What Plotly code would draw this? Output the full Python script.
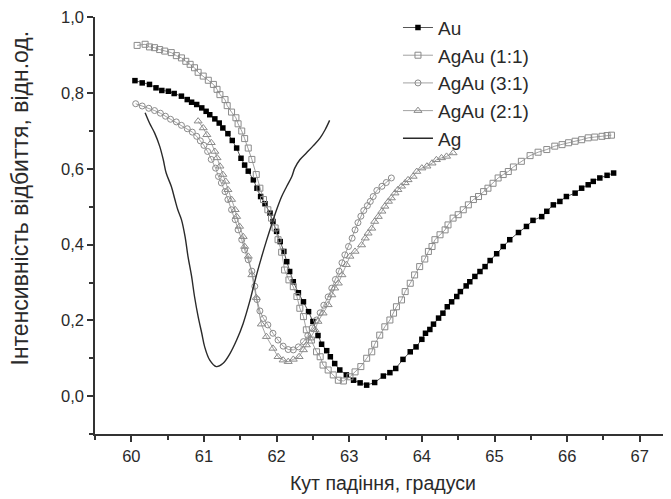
import plotly.graph_objects as go

au_x = [60.05, 60.15, 60.25, 60.34, 60.42, 60.51, 60.59, 60.69, 60.77, 60.83, 60.90, 60.97, 61.03, 61.08,
        61.15, 61.21, 61.26, 61.33, 61.39, 61.45, 61.51, 61.56, 61.61, 61.68, 61.73, 61.78, 61.84, 61.91,
        61.95, 62.00, 62.05, 62.10, 62.14, 62.18, 62.23, 62.30, 62.37, 62.44, 62.50, 62.57, 62.62, 62.69,
        62.74, 62.80, 62.87, 62.96, 63.06, 63.15, 63.24, 63.35, 63.47, 63.56, 63.64, 63.74, 63.84, 63.92,
        64.00, 64.05, 64.11, 64.16, 64.23, 64.29, 64.35, 64.41, 64.48, 64.53, 64.61, 64.66, 64.73, 64.80,
        64.87, 64.94, 65.03, 65.12, 65.21, 65.33, 65.44, 65.53, 65.65, 65.72, 65.81, 65.90, 65.99, 66.11,
        66.20, 66.29, 66.36, 66.45, 66.55, 66.64]
au_y = [0.833, 0.827, 0.823, 0.814, 0.807, 0.805, 0.799, 0.792, 0.783, 0.776, 0.770, 0.761, 0.752, 0.743,
        0.732, 0.721, 0.708, 0.693, 0.675, 0.655, 0.628, 0.610, 0.594, 0.571, 0.549, 0.527, 0.508, 0.483,
        0.461, 0.435, 0.408, 0.382, 0.355, 0.329, 0.302, 0.273, 0.249, 0.223, 0.197, 0.160, 0.137, 0.120,
        0.104, 0.086, 0.069, 0.056, 0.042, 0.035, 0.029, 0.036, 0.053, 0.062, 0.073, 0.097, 0.117, 0.130,
        0.150, 0.166, 0.176, 0.190, 0.206, 0.219, 0.236, 0.249, 0.263, 0.276, 0.291, 0.302, 0.316, 0.329,
        0.342, 0.358, 0.376, 0.395, 0.413, 0.432, 0.448, 0.464, 0.474, 0.488, 0.505, 0.514, 0.527, 0.536,
        0.549, 0.558, 0.567, 0.576, 0.583, 0.589]

agau11_x = [60.08, 60.19, 60.25, 60.32, 60.39, 60.46, 60.55, 60.62, 60.69, 60.75, 60.81, 60.87, 60.92, 60.99,
            61.06, 61.13, 61.18, 61.22, 61.29, 61.32, 61.38, 61.44, 61.47, 61.52, 61.56, 61.61, 61.66, 61.72,
            61.77, 61.82, 61.88, 61.93, 61.98, 62.02, 62.07, 62.11, 62.17, 62.23, 62.28, 62.32, 62.37, 62.41,
            62.48, 62.55, 62.60, 62.64, 62.71, 62.78, 62.85, 62.92, 63.01, 63.08, 63.16, 63.24, 63.31, 63.35,
            63.42, 63.49, 63.56, 63.61, 63.65, 63.72, 63.77, 63.84, 63.90, 63.97, 64.04, 64.09, 64.14, 64.18,
            64.25, 64.32, 64.36, 64.43, 64.50, 64.57, 64.64, 64.71, 64.78, 64.85, 64.91, 64.98, 65.05, 65.12,
            65.19, 65.26, 65.37, 65.49, 65.60, 65.72, 65.83, 65.93, 66.02, 66.11, 66.20, 66.29, 66.38, 66.48,
            66.55, 66.61]
agau11_y = [0.926, 0.929, 0.922, 0.920, 0.915, 0.911, 0.907, 0.899, 0.893, 0.884, 0.876, 0.867, 0.855, 0.845,
            0.834, 0.823, 0.810, 0.796, 0.783, 0.767, 0.750, 0.735, 0.719, 0.700, 0.680, 0.655, 0.625, 0.585,
            0.549, 0.519, 0.492, 0.470, 0.444, 0.413, 0.380, 0.333, 0.307, 0.289, 0.263, 0.232, 0.210, 0.175,
            0.148, 0.117, 0.104, 0.082, 0.069, 0.056, 0.042, 0.040, 0.051, 0.064, 0.078, 0.100, 0.117, 0.137,
            0.161, 0.183, 0.201, 0.219, 0.236, 0.254, 0.276, 0.298, 0.320, 0.342, 0.362, 0.382, 0.395, 0.413,
            0.426, 0.439, 0.452, 0.470, 0.479, 0.492, 0.505, 0.519, 0.527, 0.540, 0.549, 0.562, 0.576, 0.585,
            0.593, 0.605, 0.620, 0.635, 0.644, 0.651, 0.660, 0.664, 0.669, 0.673, 0.677, 0.682, 0.684, 0.686,
            0.688, 0.689]

agau31_x = [60.06, 60.15, 60.24, 60.32, 60.40, 60.47, 60.54, 60.62, 60.69, 60.77, 60.84, 60.90, 60.95, 61.00,
            61.05, 61.10, 61.16, 61.20, 61.24, 61.29, 61.33, 61.38, 61.43, 61.47, 61.52, 61.56, 61.61, 61.66,
            61.70, 61.73, 61.77, 61.82, 61.88, 61.95, 62.02, 62.09, 62.16, 62.23, 62.30, 62.37, 62.43, 62.49,
            62.55, 62.60, 62.65, 62.71, 62.76, 62.81, 62.86, 62.90, 62.94, 62.99, 63.04, 63.08, 63.12, 63.16,
            63.20, 63.25, 63.29, 63.33, 63.38, 63.45, 63.51, 63.58]
agau31_y = [0.772, 0.766, 0.760, 0.754, 0.747, 0.739, 0.731, 0.724, 0.715, 0.706, 0.697, 0.686, 0.674, 0.662,
            0.646, 0.625, 0.602, 0.580, 0.563, 0.540, 0.519, 0.492, 0.466, 0.439, 0.413, 0.386, 0.360, 0.330,
            0.290, 0.255, 0.225, 0.205, 0.188, 0.166, 0.148, 0.132, 0.123, 0.122, 0.130, 0.144, 0.160, 0.180,
            0.201, 0.220, 0.240, 0.262, 0.285, 0.308, 0.330, 0.352, 0.373, 0.395, 0.417, 0.439, 0.458, 0.475,
            0.490, 0.503, 0.514, 0.527, 0.543, 0.554, 0.564, 0.576]

agau21_x = [60.92, 60.99, 61.04, 61.10, 61.15, 61.18, 61.22, 61.26, 61.30, 61.33, 61.38, 61.43, 61.45, 61.49,
            61.54, 61.56, 61.61, 61.66, 61.72, 61.79, 61.86, 61.95, 62.02, 62.09, 62.16, 62.23, 62.31, 62.37,
            62.41, 62.46, 62.53, 62.57, 62.64, 62.71, 62.76, 62.80, 62.85, 62.90, 62.96, 63.01, 63.08, 63.17,
            63.22, 63.26, 63.31, 63.35, 63.40, 63.45, 63.49, 63.54, 63.58, 63.63, 63.67, 63.72, 63.77, 63.81,
            63.88, 63.93, 64.00, 64.07, 64.14, 64.20, 64.27, 64.34, 64.43]
agau21_y = [0.726, 0.708, 0.690, 0.669, 0.646, 0.629, 0.607, 0.585, 0.567, 0.545, 0.519, 0.492, 0.474, 0.448,
            0.421, 0.395, 0.369, 0.320, 0.260, 0.190, 0.157, 0.126, 0.104, 0.095, 0.091, 0.097, 0.104, 0.122,
            0.135, 0.153, 0.175, 0.197, 0.219, 0.241, 0.267, 0.285, 0.298, 0.320, 0.347, 0.369, 0.382, 0.399,
            0.417, 0.430, 0.443, 0.461, 0.474, 0.488, 0.501, 0.514, 0.523, 0.536, 0.545, 0.554, 0.563, 0.571,
            0.580, 0.593, 0.602, 0.607, 0.615, 0.624, 0.629, 0.633, 0.642]

ag_x = [60.19, 60.25, 60.32, 60.39, 60.44, 60.48, 60.55, 60.60, 60.64, 60.69, 60.74, 60.78, 60.83, 60.87,
        60.92, 60.97, 61.01, 61.08, 61.17, 61.26, 61.36, 61.45, 61.54, 61.63, 61.71, 61.79, 61.86, 61.93,
        62.00, 62.07, 62.14, 62.21, 62.25, 62.32, 62.41, 62.50, 62.60, 62.67, 62.73]
ag_y = [0.748, 0.721, 0.695, 0.660, 0.624, 0.589, 0.554, 0.519, 0.492, 0.466, 0.421, 0.369, 0.316, 0.263,
        0.210, 0.166, 0.130, 0.095, 0.078, 0.086, 0.113, 0.148, 0.192, 0.250, 0.310, 0.365, 0.410, 0.452,
        0.492, 0.527, 0.554, 0.580, 0.602, 0.624, 0.642, 0.660, 0.682, 0.704, 0.728]

names = ["Au", "AgAu (1:1)", "AgAu (3:1)", "AgAu (2:1)", "Ag"]
x_ticks = [60, 61, 62, 63, 64, 65, 66, 67]
y_ticks = [0.0, 0.2, 0.4, 0.6, 0.8, 1.0]

GRAY = "#8a8a8a"
INK = "#2a2a2a"
fig = go.Figure()
fig.add_trace(go.Scatter(x=au_x, y=au_y, name=names[0], mode="lines+markers", legendgroup="a",
                         line=dict(color=INK, width=0.8),
                         marker=dict(symbol="square", size=5.5, color="black")))
fig.add_trace(go.Scatter(x=agau11_x, y=agau11_y, name=names[1], mode="lines+markers", legendgroup="b",
                         line=dict(color=GRAY, width=0.8),
                         marker=dict(symbol="square-open", size=6, color=GRAY, line=dict(width=1))))
fig.add_trace(go.Scatter(x=agau31_x, y=agau31_y, name=names[2], mode="lines+markers", legendgroup="c",
                         line=dict(color=GRAY, width=0.8),
                         marker=dict(symbol="circle-open", size=6, color=GRAY, line=dict(width=1))))
fig.add_trace(go.Scatter(x=agau21_x, y=agau21_y, name=names[3], mode="lines+markers", legendgroup="d",
                         line=dict(color=GRAY, width=0.8),
                         marker=dict(symbol="triangle-up-open", size=7, color=GRAY, line=dict(width=1))))
fig.add_trace(go.Scatter(x=ag_x, y=ag_y, name=names[4], mode="lines", legendgroup="e",
                         line=dict(color=INK, width=1.4, shape="spline")))

FONT = "Liberation Sans, Arial, sans-serif"
# the page body has an 8px margin, so the figure is sized and offset to fill the 671x499 window
fig.update_layout(
    width=663, height=491,
    margin=dict(l=87, r=0, t=9, b=65),
    paper_bgcolor="white", plot_bgcolor="white",
    separators=", ",
    font=dict(family=FONT, size=16, color=INK),
    showlegend=True,
    legend=dict(x=0.526, y=1.02, xanchor="left", yanchor="top", bgcolor="rgba(0,0,0,0)",
                font=dict(size=19, family=FONT, color=INK), tracegroupgap=0,
                itemwidth=30),
    xaxis=dict(range=[59.5, 67.43], tickmode="array", tickvals=x_ticks,
               ticks="outside", ticklen=6, tickwidth=1.5, tickcolor="#333333",
               showline=True, linecolor="#333333", linewidth=1.5, showgrid=False, zeroline=False,
               minor=dict(tickvals=[59.5, 60.5, 61.5, 62.5, 63.5, 64.5, 65.5, 66.5], ticks="outside",
                          ticklen=4, tickwidth=1.5, tickcolor="#333333", showgrid=False),
               tickfont=dict(size=16.5, family=FONT, color=INK)),
    yaxis=dict(range=[-0.1, 1.001], tickmode="array", tickvals=y_ticks,
               tickformat=".1f",
               ticks="outside", ticklen=6, tickwidth=1.5, tickcolor="#333333",
               showline=True, linecolor="#333333", linewidth=1.5, showgrid=False, zeroline=False,
               minor=dict(tickvals=[-0.1, 0.1, 0.3, 0.5, 0.7, 0.9], ticks="outside",
                          ticklen=4, tickwidth=1.5, tickcolor="#333333", showgrid=False),
               tickfont=dict(size=16.5, family=FONT, color=INK)),
    annotations=[
        dict(text="Інтенсивність відбиття, відн.од.", textangle=-90,
             xref="paper", yref="paper", x=-0.13, y=0.565, xanchor="center", yanchor="middle",
             showarrow=False, font=dict(size=23, family=FONT, color=INK)),
        dict(text="Кут падіння, градуси",
             xref="paper", yref="paper", x=0.5, y=-0.1175, xanchor="center", yanchor="middle",
             showarrow=False, font=dict(size=19.5, family=FONT, color=INK)),
    ],
)

fig.write_html("out.html")
